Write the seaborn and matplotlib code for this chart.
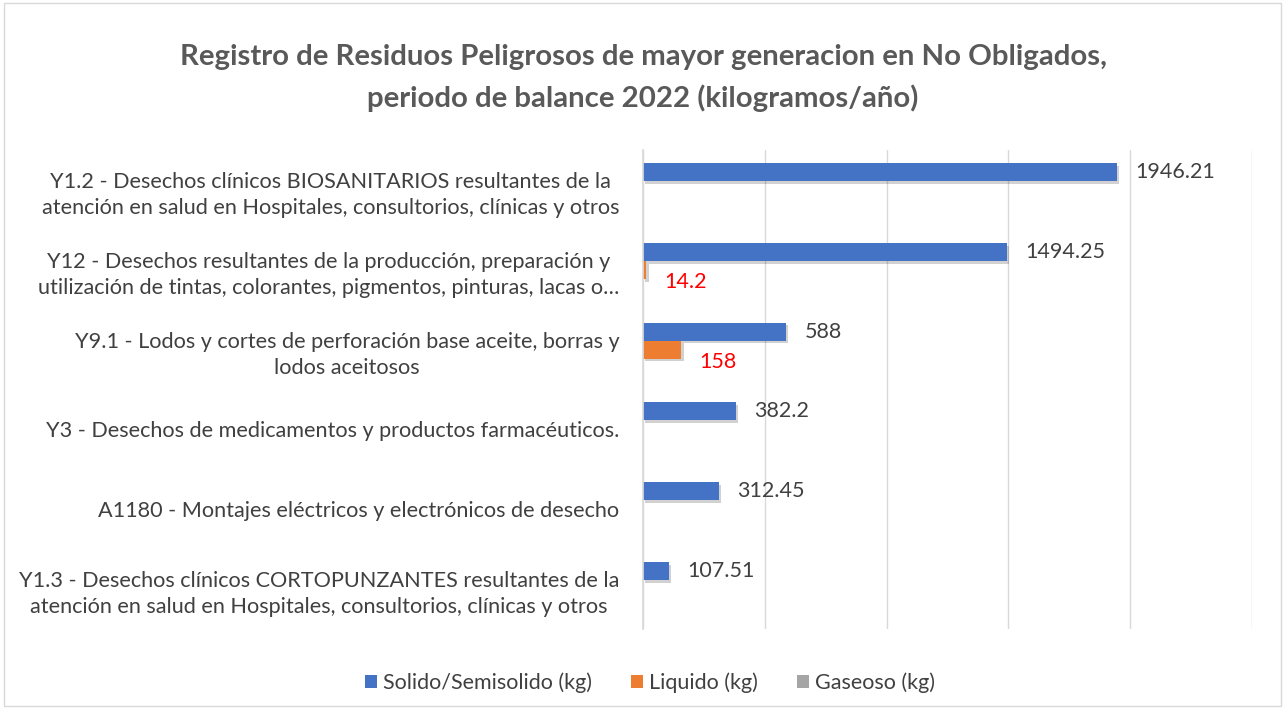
import matplotlib
matplotlib.use("Agg")
import matplotlib.pyplot as plt
import matplotlib.patheffects as pe
import seaborn as sns
import pandas as pd
from matplotlib.patches import Rectangle

categories = [
    "Y1.2 - Desechos clínicos BIOSANITARIOS resultantes de la\natención en salud en Hospitales, consultorios, clínicas y otros",
    "Y12 - Desechos resultantes de la producción, preparación y\nutilización de tintas, colorantes, pigmentos, pinturas, lacas o…",
    "Y9.1 - Lodos y cortes de perforación base aceite, borras y\nlodos aceitosos",
    "Y3 - Desechos de medicamentos y productos farmacéuticos.",
    "A1180 - Montajes eléctricos y electrónicos de desecho",
    "Y1.3 - Desechos clínicos CORTOPUNZANTES resultantes de la\natención en salud en Hospitales, consultorios, clínicas y otros",
]
series_names = ["Solido/Semisolido (kg)", "Liquido (kg)", "Gaseoso (kg)"]
solido = [1946.21, 1494.25, 588, 382.2, 312.45, 107.51]
liquido = [0, 14.2, 158, 0, 0, 0]
gaseoso = [0, 0, 0, 0, 0, 0]
title = "Registro de Residuos Peligrosos de mayor generacion en No Obligados,\nperiodo de balance 2022 (kilogramos/año)"

rows = []
for name, vals in zip(series_names, [solido, liquido, gaseoso]):
    for c, v in zip(categories, vals):
        rows.append({"cat": c, "serie": name, "val": v})
df = pd.DataFrame(rows)

sns.set_theme(style="white")
plt.rcParams["font.family"] = ["Lato", "DejaVu Sans"]

colors = ["#4472C4", "#ED7D31", "#A5A5A5"]
fig = plt.figure(figsize=(12.85, 7.1), dpi=100)
ax = fig.add_axes([643/1285, 1-629/710, (1252-643)/1285, (629-150)/710])
sns.barplot(data=df, y="cat", x="val", hue="serie", orient="h", palette=colors,
            width=0.675, ax=ax, saturation=1, legend=True, linewidth=0)

ax.set_xlim(0, 2500)
ax.set_xticks([0, 500, 1000, 1500, 2000, 2500])
ax.set_xticklabels([])
ax.tick_params(axis="x", length=0)
ax.tick_params(axis="y", length=0, pad=17)
ax.grid(axis="x", color="#d9d9d9", linewidth=1)
ax.set_axisbelow(True)
for s in ["top", "right", "bottom"]:
    ax.spines[s].set_visible(False)
ax.spines["left"].set_color("#d9d9d9")
ax.set_xlabel("")
ax.set_ylabel("")
for t in ax.get_yticklabels():
    t.set_multialignment("center")
    t.set_fontsize(15.6)
    t.set_color("#404040")
    t.set_linespacing(1.4)

shadow = [pe.SimplePatchShadow(offset=(1.5, -2), shadow_rgbFace="#000000", alpha=0.18), pe.Normal()]
for p in ax.patches:
    if p.get_width() > 0:
        p.set_path_effects(shadow)

label_colors = ["#404040", "#FF0000", "#404040"]
label_offsets = [(13, 0), (13, -9), (13, 0)]
for cont, lc, off in zip(ax.containers, label_colors, label_offsets):
    for bar, v in zip(cont.patches, cont.datavalues):
        if v > 0:
            ax.annotate(f"{v:g}", xy=(bar.get_x() + bar.get_width(), bar.get_y() + bar.get_height() / 2),
                        xytext=off, textcoords="offset points", ha="left", va="center",
                        fontsize=15.5, color=lc)

handles, labs = ax.get_legend_handles_labels()
ax.legend_.remove()
fig.legend(handles, labs, loc="center", bbox_to_anchor=(650/1285, 1-683/710), ncol=3,
           frameon=False, fontsize=15.5, handlelength=0.55, handleheight=0.55,
           handletextpad=0.3, columnspacing=1.8, labelcolor="#404040")

fig.text(643/1285, 1-78/710, title, ha="center", va="center", fontsize=21.2,
         fontweight="bold", color="#595959", linespacing=1.65)

fig.patches.append(Rectangle((0.003, 0.006), 0.994, 0.99, transform=fig.transFigure,
                             fill=False, edgecolor="#d9d9d9", linewidth=1))
fig.savefig("out.png", dpi=100)
